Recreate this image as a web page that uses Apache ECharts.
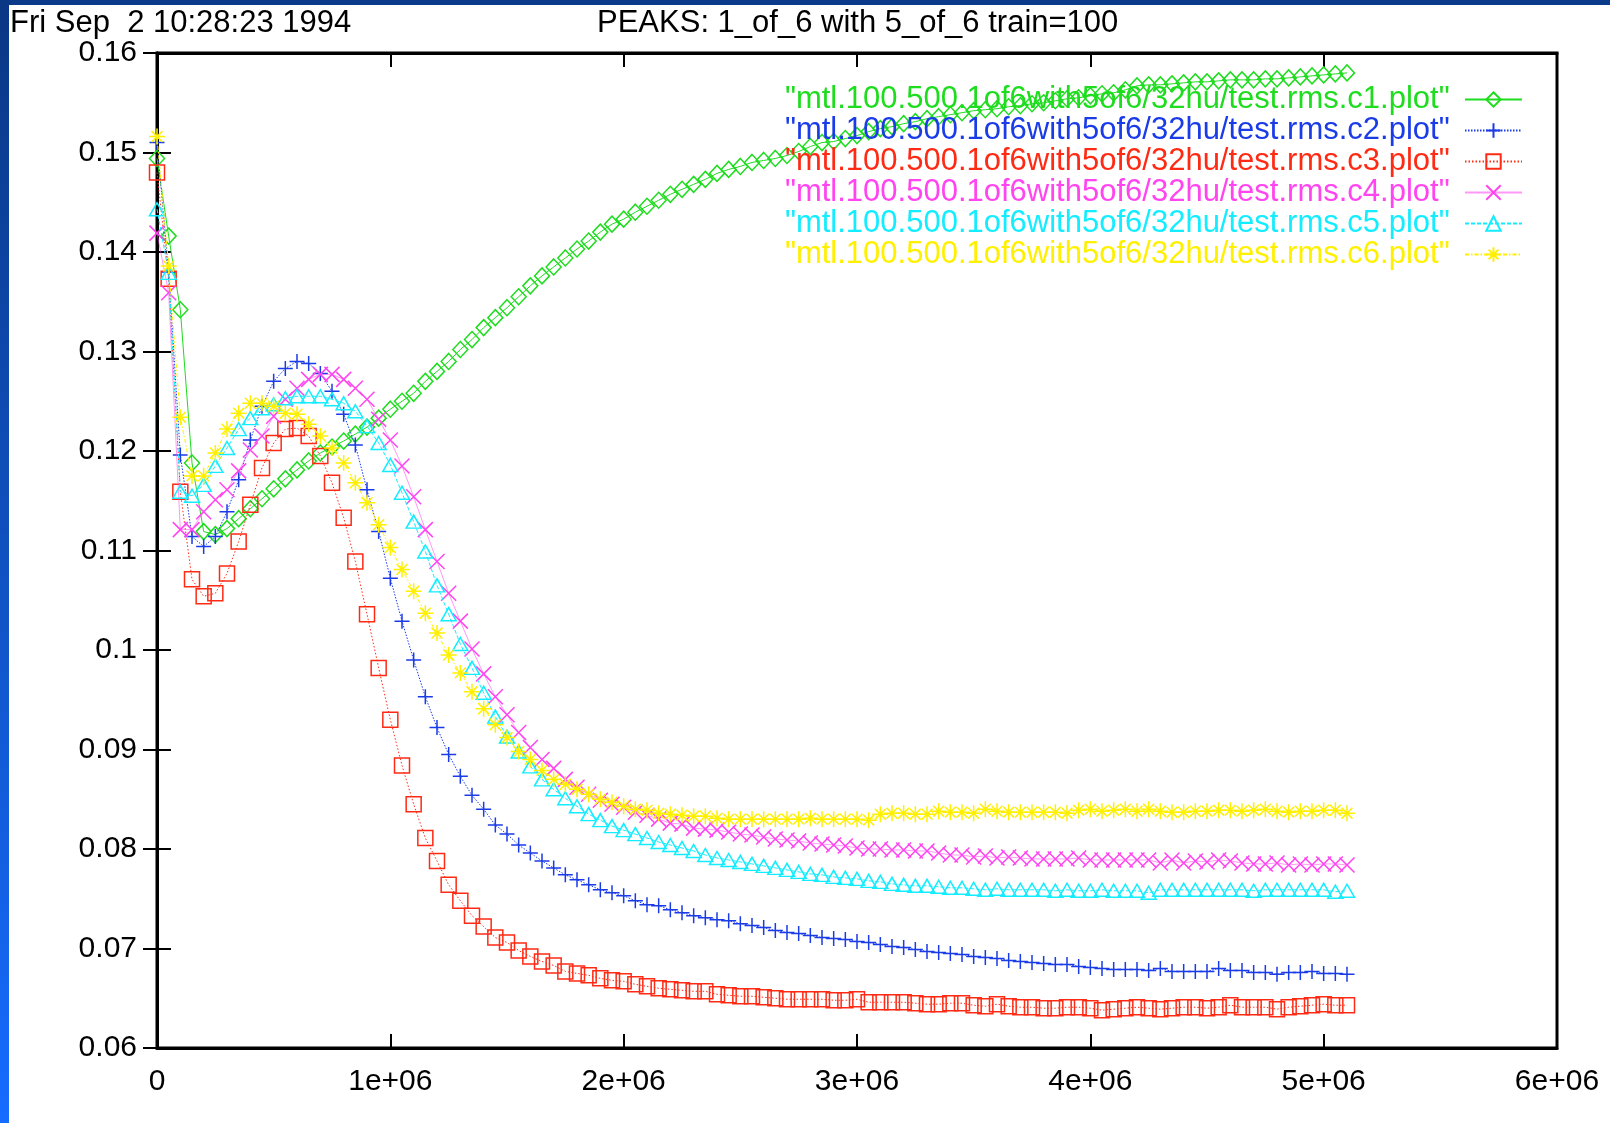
<!DOCTYPE html>
<html>
<head>
<meta charset="utf-8">
<title>PEAKS: 1_of_6 with 5_of_6 train=100</title>
<script src="https://cdn.jsdelivr.net/npm/echarts@6/dist/echarts.min.js"></script>
<style>
html,body{margin:0;padding:0;background:#fff;}
#chart{width:1610px;height:1123px;}
</style>
</head>
<body>
<div id="chart"></div>
<script>
// training steps (x)
var steps = [0,50000,100000,150000,200000,250000,300000,350000,400000,450000,
    500000,550000,600000,650000,700000,750000,800000,850000,900000,950000,
    1000000,1050000,1100000,1150000,1200000,1250000,1300000,1350000,1400000,1450000,
    1500000,1550000,1600000,1650000,1700000,1750000,1800000,1850000,1900000,1950000,
    2000000,2050000,2100000,2150000,2200000,2250000,2300000,2350000,2400000,2450000,
    2500000,2550000,2600000,2650000,2700000,2750000,2800000,2850000,2900000,2950000,
    3000000,3050000,3100000,3150000,3200000,3250000,3300000,3350000,3400000,3450000,
    3500000,3550000,3600000,3650000,3700000,3750000,3800000,3850000,3900000,3950000,
    4000000,4050000,4100000,4150000,4200000,4250000,4300000,4350000,4400000,4450000,
    4500000,4550000,4600000,4650000,4700000,4750000,4800000,4850000,4900000,4950000,
    5000000,5050000,5100000];

var rmsC1 = [0.1494,0.1416,0.1342,0.1188,0.1119,0.1116,0.1122,0.1132,0.1142,0.1152,
    0.1162,0.1172,0.1181,0.1190,0.1198,0.1204,0.1210,0.1217,0.1224,0.1233,
    0.1242,0.1250,0.1258,0.1270,0.1280,0.1290,0.1302,0.1312,0.1324,0.1334,
    0.1344,0.1355,0.1366,0.1376,0.1385,0.1394,0.1403,0.1411,0.1420,0.1428,
    0.1433,0.1440,0.1446,0.1452,0.1458,0.1463,0.1468,0.1473,0.1479,0.1483,
    0.1486,0.1490,0.1492,0.1494,0.1497,0.1501,0.1506,0.1510,0.1511,0.1514,
    0.1517,0.1521,0.1524,0.1526,0.1529,0.1531,0.1534,0.1536,0.1538,0.1540,
    0.1542,0.1543,0.1544,0.1546,0.1547,0.1549,0.1550,0.1552,0.1554,0.1555,
    0.1557,0.1559,0.1560,0.1563,0.1567,0.1568,0.1568,0.1569,0.1570,0.1571,
    0.1571,0.1572,0.1573,0.1573,0.1573,0.1574,0.1574,0.1575,0.1576,0.1577,
    0.1578,0.1579,0.1580];

var rmsC2 = [0.1510,0.1380,0.1196,0.1114,0.1104,0.1114,0.1139,0.1171,0.1211,0.1245,
    0.1270,0.1283,0.1290,0.1288,0.1278,0.1260,0.1237,0.1206,0.1161,0.1119,
    0.1072,0.1029,0.0990,0.0953,0.0922,0.0895,0.0873,0.0854,0.0840,0.0824,
    0.0815,0.0804,0.0796,0.0788,0.0781,0.0774,0.0769,0.0764,0.0759,0.0756,
    0.0753,0.0748,0.0744,0.0743,0.0739,0.0736,0.0733,0.0731,0.0729,0.0728,
    0.0725,0.0723,0.0721,0.0718,0.0716,0.0715,0.0713,0.0711,0.0710,0.0709,
    0.0707,0.0706,0.0704,0.0702,0.0701,0.0699,0.0697,0.0696,0.0695,0.0694,
    0.0692,0.0691,0.0690,0.0688,0.0687,0.0686,0.0685,0.0684,0.0684,0.0682,
    0.0681,0.0680,0.0679,0.0679,0.0679,0.0678,0.0680,0.0677,0.0677,0.0677,
    0.0677,0.0680,0.0678,0.0678,0.0676,0.0676,0.0674,0.0676,0.0676,0.0677,
    0.0675,0.0675,0.0674];

var rmsC3 = [0.1480,0.1373,0.1159,0.1071,0.1054,0.1057,0.1077,0.1109,0.1146,0.1183,
    0.1208,0.1222,0.1223,0.1215,0.1195,0.1168,0.1133,0.1089,0.1036,0.0982,
    0.0930,0.0884,0.0845,0.0811,0.0788,0.0764,0.0748,0.0733,0.0722,0.0711,
    0.0706,0.0698,0.0692,0.0687,0.0683,0.0677,0.0675,0.0673,0.0670,0.0668,
    0.0667,0.0664,0.0662,0.0660,0.0659,0.0658,0.0657,0.0657,0.0654,0.0653,
    0.0652,0.0652,0.0651,0.0650,0.0649,0.0649,0.0649,0.0649,0.0648,0.0648,
    0.0649,0.0646,0.0646,0.0646,0.0646,0.0645,0.0644,0.0644,0.0645,0.0645,
    0.0643,0.0642,0.0644,0.0642,0.0641,0.0641,0.0640,0.0640,0.0641,0.0641,
    0.0640,0.0638,0.0639,0.0640,0.0641,0.0640,0.0639,0.0640,0.0641,0.0641,
    0.0640,0.0641,0.0643,0.0641,0.0641,0.0641,0.0639,0.0641,0.0642,0.0643,
    0.0644,0.0643,0.0643];

var rmsC4 = [0.1419,0.1359,0.1121,0.1121,0.1139,0.1151,0.1161,0.1180,0.1201,0.1215,
    0.1235,0.1252,0.1263,0.1272,0.1277,0.1277,0.1272,0.1263,0.1252,0.1232,
    0.1211,0.1185,0.1154,0.1121,0.1089,0.1057,0.1029,0.1001,0.0976,0.0953,
    0.0935,0.0917,0.0902,0.0890,0.0881,0.0870,0.0862,0.0855,0.0849,0.0845,
    0.0842,0.0837,0.0834,0.0830,0.0826,0.0825,0.0821,0.0820,0.0819,0.0817,
    0.0815,0.0814,0.0812,0.0810,0.0809,0.0808,0.0806,0.0805,0.0804,0.0803,
    0.0801,0.0800,0.0800,0.0799,0.0799,0.0798,0.0798,0.0796,0.0794,0.0794,
    0.0792,0.0793,0.0791,0.0792,0.0791,0.0790,0.0790,0.0790,0.0790,0.0791,
    0.0789,0.0789,0.0789,0.0789,0.0789,0.0789,0.0786,0.0789,0.0786,0.0788,
    0.0787,0.0789,0.0788,0.0786,0.0785,0.0785,0.0786,0.0784,0.0785,0.0784,
    0.0785,0.0785,0.0784];

var rmsC5 = [0.1443,0.1379,0.1159,0.1155,0.1166,0.1185,0.1203,0.1222,0.1233,0.1243,
    0.1247,0.1253,0.1255,0.1255,0.1255,0.1252,0.1248,0.1240,0.1225,0.1208,
    0.1186,0.1158,0.1129,0.1099,0.1065,0.1036,0.1006,0.0982,0.0957,0.0933,
    0.0913,0.0898,0.0883,0.0870,0.0860,0.0851,0.0843,0.0835,0.0829,0.0823,
    0.0819,0.0815,0.0811,0.0807,0.0804,0.0801,0.0798,0.0794,0.0791,0.0789,
    0.0787,0.0785,0.0783,0.0781,0.0779,0.0777,0.0775,0.0774,0.0772,0.0771,
    0.0770,0.0768,0.0767,0.0765,0.0764,0.0763,0.0763,0.0762,0.0761,0.0761,
    0.0760,0.0759,0.0760,0.0759,0.0759,0.0759,0.0759,0.0758,0.0759,0.0758,
    0.0758,0.0759,0.0758,0.0758,0.0758,0.0756,0.0759,0.0759,0.0759,0.0759,
    0.0759,0.0759,0.0759,0.0759,0.0758,0.0759,0.0759,0.0759,0.0759,0.0759,
    0.0759,0.0757,0.0758];

var rmsC6 = [0.1516,0.1386,0.1234,0.1175,0.1175,0.1198,0.1222,0.1238,0.1248,0.1248,
    0.1245,0.1238,0.1237,0.1227,0.1215,0.1203,0.1188,0.1168,0.1148,0.1126,
    0.1103,0.1081,0.1059,0.1037,0.1017,0.0995,0.0977,0.0958,0.0941,0.0925,
    0.0912,0.0898,0.0890,0.0879,0.0870,0.0865,0.0860,0.0855,0.0850,0.0847,
    0.0843,0.0840,0.0839,0.0836,0.0835,0.0834,0.0833,0.0833,0.0831,0.0830,
    0.0830,0.0830,0.0830,0.0830,0.0830,0.0830,0.0831,0.0830,0.0830,0.0830,
    0.0830,0.0829,0.0835,0.0836,0.0836,0.0835,0.0835,0.0838,0.0837,0.0837,
    0.0836,0.0840,0.0838,0.0837,0.0837,0.0837,0.0837,0.0837,0.0836,0.0839,
    0.0840,0.0838,0.0839,0.0840,0.0838,0.0840,0.0838,0.0837,0.0837,0.0838,
    0.0838,0.0839,0.0839,0.0838,0.0839,0.0840,0.0838,0.0837,0.0838,0.0838,
    0.0839,0.0839,0.0836];

var fileNames = [
    '"mtl.100.500.1of6with5of6/32hu/test.rms.c1.plot"',
    '"mtl.100.500.1of6with5of6/32hu/test.rms.c2.plot"',
    '"mtl.100.500.1of6with5of6/32hu/test.rms.c3.plot"',
    '"mtl.100.500.1of6with5of6/32hu/test.rms.c4.plot"',
    '"mtl.100.500.1of6with5of6/32hu/test.rms.c5.plot"',
    '"mtl.100.500.1of6with5of6/32hu/test.rms.c6.plot"'
];
var yTicks = [0.06,0.07,0.08,0.09,0.1,0.11,0.12,0.13,0.14,0.15,0.16];

var FONT = "'Liberation Sans', Arial, Helvetica, sans-serif";
var colors = ['#1edc1e','#1a3be8','#ff2a14','#ff44f0','#14ecff','#fff000'];

var PLUS = 'path://M0,5L10,5M5,0L5,10';
var CROSS = 'path://M0,0L10,10M0,10L10,0';
var STAR = 'path://M0,5L10,5M5,0L5,10M1.6,1.6L8.4,8.4M1.6,8.4L8.4,1.6';

var styles = [
    {symbol:'diamond', size:[15,16], line:'solid', lw:1, op:1},
    {symbol:PLUS, size:15, line:[1.5,1.5], lw:1, op:1},
    {symbol:'rect', size:15, line:[1.5,2], lw:1, op:1},
    {symbol:CROSS, size:15, line:'solid', lw:1, op:0.55},
    {symbol:'triangle', size:[15,13], line:[4,2], lw:1, op:1},
    {symbol:STAR, size:16, line:[4,2,1.5,2], lw:1, op:1}
];

var allRms = [rmsC1, rmsC2, rmsC3, rmsC4, rmsC5, rmsC6];

var chart = echarts.init(document.getElementById('chart'));

var series = allRms.map(function (vals, k) {
    return {
        name: fileNames[k],
        type: 'line',
        data: steps.map(function (x, j) { return [x, vals[j]]; }),
        symbol: styles[k].symbol,
        symbolSize: styles[k].size,
        lineStyle: {color: colors[k], width: styles[k].lw, type: styles[k].line, opacity: styles[k].op},
        itemStyle: {color: 'rgba(255,255,255,0)', borderColor: colors[k], borderWidth: 1.5},
        emphasis: {disabled: true},
        clip: true,
        z: 2 + k
    };
});

var tickLine = {show: true, inside: true, length: 14, lineStyle: {color: '#000', width: 2}};
var axisLineStyle = {show: true, lineStyle: {color: '#000', width: 3}};

option = {
    animation: false,
    backgroundColor: '#fff',
    title: [
        {text: 'Fri Sep  2 10:28:23 1994', left: 10, top: 8, padding: 0,
            textStyle: {fontFamily: FONT, fontSize: 31, fontWeight: 'normal', color: '#000'}},
        {text: 'PEAKS: 1_of_6 with 5_of_6 train=100', left: 597, top: 8, padding: 0,
            textStyle: {fontFamily: FONT, fontSize: 31, fontWeight: 'normal', color: '#000'}}
    ],
    grid: {left: 157, top: 53, right: 53, bottom: 75, show: true, borderColor: '#000', borderWidth: 3},
    legend: {
        orient: 'vertical',
        right: 87,
        top: 84,
        align: 'right',
        itemWidth: 57,
        itemHeight: 18,
        itemGap: 0,
        padding: 0,
        selectedMode: false,
        formatter: function (n) { return n + '\u2004'; },
        textStyle: {fontFamily: FONT, fontSize: 31, lineHeight: 31},
        data: fileNames.map(function (n, k) { return {name: n, textStyle: {color: colors[k]}}; })
    },
    xAxis: [
        {
            type: 'value', min: 0, max: 6000000, interval: 1000000,
            axisLine: axisLineStyle, axisTick: tickLine, splitLine: {show: false},
            axisLabel: {
                margin: 19, color: '#000', fontFamily: FONT, fontSize: 30,
                formatter: function (v) { return v === 0 ? '0' : (v / 1000000) + 'e+06'; }
            }
        },
        {
            type: 'value', position: 'top', min: 0, max: 6000000, interval: 1000000,
            axisLine: axisLineStyle, axisTick: tickLine, splitLine: {show: false},
            axisLabel: {show: false}
        }
    ],
    yAxis: [
        {
            type: 'value', min: yTicks[0], max: yTicks[yTicks.length - 1], interval: 0.01,
            axisLine: axisLineStyle, axisTick: tickLine, splitLine: {show: false},
            axisLabel: {
                margin: 20, color: '#000', fontFamily: FONT, fontSize: 30,
                formatter: function (v) { return String(+v.toFixed(2)); }
            }
        },
        {
            type: 'value', position: 'right', min: yTicks[0], max: yTicks[yTicks.length - 1], interval: 0.01,
            axisLine: axisLineStyle, axisTick: tickLine, splitLine: {show: false},
            axisLabel: {show: false}
        }
    ],
    graphic: [
        {type: 'rect', left: 0, top: 0, z: 100, shape: {width: 1610, height: 5}, style: {fill: '#0b3a8a'}},
        {type: 'rect', left: 0, top: 0, z: 100, shape: {width: 9, height: 1123},
            style: {fill: new echarts.graphic.LinearGradient(0, 0, 0, 1, [
                {offset: 0, color: '#0a3784'},
                {offset: 1, color: '#166cff'}
            ])}}
    ],
    series: series
};
chart.setOption(option);
</script>
</body>
</html>
